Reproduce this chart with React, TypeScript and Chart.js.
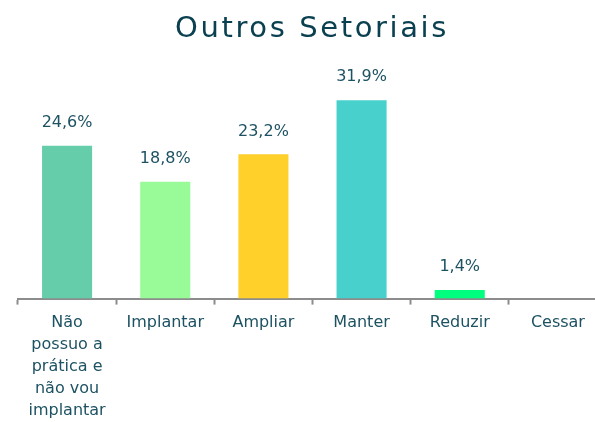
import React, { useEffect, useRef } from "react";
import { Chart, registerables } from "chart.js";

Chart.register(...registerables);

const categories: (string | string[])[] = [
  ["Não", "possuo a", "prática e", "não vou", "implantar"],
  "Implantar",
  "Ampliar",
  "Manter",
  "Reduzir",
  "Cessar",
];
const values: number[] = [24.6, 18.8, 23.2, 31.9, 1.4, 0];
const barColors: string[] = ["#66CDAA", "#98FB98", "#FFD02A", "#48D1CC", "#00FF7F", "#FF8C69"];
const titleText = "Outros Setoriais";

const FONT = "'DejaVu Sans', sans-serif";
const TEXT = "#1d5263";

const labelPlugin = {
  id: "valueLabels",
  afterDatasetsDraw(chart: any) {
    const ctx = chart.ctx;
    const meta = chart.getDatasetMeta(0);
    ctx.save();
    ctx.fillStyle = TEXT;
    ctx.font = `16px ${FONT}`;
    ctx.textAlign = "center";
    ctx.textBaseline = "middle";
    meta.data.forEach((el: any, i: number) => {
      const v = values[i];
      if (!v) return;
      ctx.fillText(v.toFixed(1).replace(".", ",") + "%", el.x, el.y - 23);
    });
    // title
    ctx.fillStyle = "#0b4050";
    ctx.font = `29px ${FONT}`;
    (ctx as any).letterSpacing = "2.6px";
    ctx.textAlign = "center";
    ctx.textBaseline = "middle";
    ctx.fillText(titleText, 312, 29);
    ctx.restore();
  },
};

export default function App() {
  const ref = useRef<HTMLCanvasElement>(null);
  useEffect(() => {
    const chart = new Chart(ref.current!, {
      type: "bar",
      data: {
        labels: categories,
        datasets: [
          {
            data: values,
            backgroundColor: barColors,
            barPercentage: 0.51,
            categoryPercentage: 1,
          },
        ],
      },
      options: {
        responsive: false,
        animation: false,
        devicePixelRatio: 1,
        layout: { padding: { left: 18, right: 15, top: 81, bottom: -7 } },
        plugins: {
          legend: { display: false },
          tooltip: { enabled: false },
          title: { display: false },
        },
        scales: {
          y: { display: false, min: 0, max: 35 },
          x: {
            border: { color: "#8c8c8c", width: 2 },
            grid: {
              drawOnChartArea: false,
              drawTicks: true,
              tickLength: 6,
              tickColor: "#8c8c8c",
              tickWidth: 2,
              offset: true,
            },
            ticks: {
              color: TEXT,
              padding: 7,
              maxRotation: 0,
              autoSkip: false,
              font: { family: FONT, size: 16, lineHeight: 1.38 },
            },
          },
        },
      },
      plugins: [labelPlugin],
    });
    return () => chart.destroy();
  }, []);
  return (
    <div style={{ position: "fixed", left: 0, top: 0, width: 595, height: 422, overflow: "hidden", background: "#fff" }}>
      <canvas ref={ref} width={622} height={422} style={{ display: "block" }} />
    </div>
  );
}
